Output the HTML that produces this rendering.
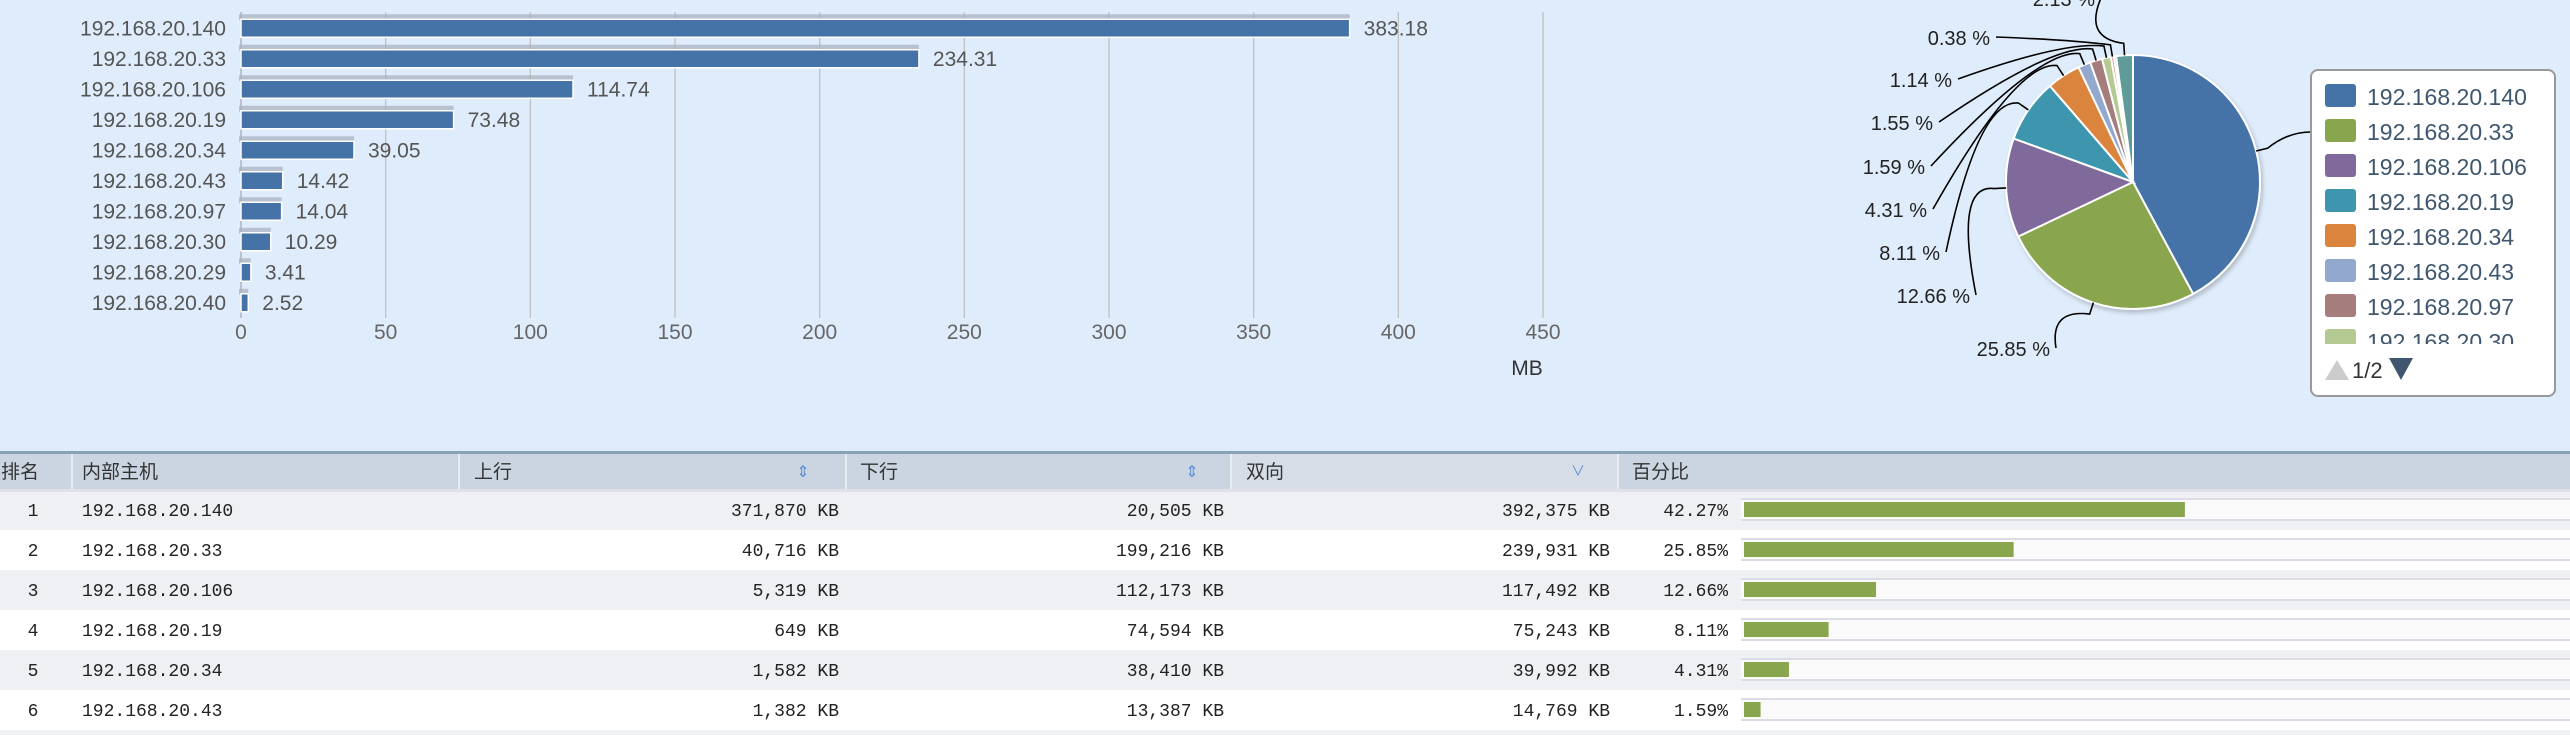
<!DOCTYPE html>
<html><head><meta charset="utf-8">
<style>
html,body{margin:0;padding:0;background:#dfecfb;}
svg{display:block;}
.t{font-family:"Liberation Sans","Noto Sans CJK SC",sans-serif;}
.m{font-family:"Liberation Mono","Noto Sans CJK SC",monospace;}
</style></head>
<body>
<svg id="root" width="2570" height="735" viewBox="0 0 2570 735" xmlns="http://www.w3.org/2000/svg">
<defs>
<filter id="sh" x="-10%" y="-10%" width="130%" height="130%"><feDropShadow dx="2" dy="3" stdDeviation="2" flood-color="#000" flood-opacity="0.2"/></filter>
</defs>
<rect x="0" y="0" width="2570" height="735" fill="#dfecfb"/>
<g id="bar"></g>
<g id="pie"></g>
<g id="legend"></g>
<g id="table"></g>
</svg>
<script>
const hosts = ["192.168.20.140","192.168.20.33","192.168.20.106","192.168.20.19","192.168.20.34","192.168.20.43","192.168.20.97","192.168.20.30","192.168.20.29","192.168.20.40"];
const barValues = [383.18,234.31,114.74,73.48,39.05,14.42,14.04,10.29,3.41,2.52];
const xTicks = [0,50,100,150,200,250,300,350,400,450];
const pieValues = [42.27,25.85,12.66,8.11,4.31,1.59,1.55,1.14,0.38,0.28,2.13];
const pieLabels = ["42.27 %","25.85 %","12.66 %","8.11 %","4.31 %","1.59 %","1.55 %","1.14 %","0.38 %","","2.13 %"];
const legendNames = ["192.168.20.140","192.168.20.33","192.168.20.106","192.168.20.19","192.168.20.34","192.168.20.43","192.168.20.97","192.168.20.30"];
const rankCol = ["1","2","3","4","5","6"];
const hostCol = ["192.168.20.140","192.168.20.33","192.168.20.106","192.168.20.19","192.168.20.34","192.168.20.43"];
const upCol = ["371,870 KB","40,716 KB","5,319 KB","649 KB","1,582 KB","1,382 KB"];
const downCol = ["20,505 KB","199,216 KB","112,173 KB","74,594 KB","38,410 KB","13,387 KB"];
const bothCol = ["392,375 KB","239,931 KB","117,492 KB","75,243 KB","39,992 KB","14,769 KB"];
const pctCol = [42.27,25.85,12.66,8.11,4.31,1.59];

const NS="http://www.w3.org/2000/svg";
function mk(parent,tag,attrs,text){const e=document.createElementNS(NS,tag);for(const k in attrs)e.setAttribute(k,attrs[k]);if(text!==undefined)e.textContent=text;parent.appendChild(e);return e;}

// ---- Bar chart ----
const bar=document.getElementById('bar');
const x0=241,x1=1543,plotTop=12,plotBot=318;
const xs=v=>x0+(v-xTicks[0])/(xTicks[xTicks.length-1]-xTicks[0])*(x1-x0);
const bandTop=13,band=(plotBot-bandTop)/hosts.length;
const yc=i=>bandTop+band*(i+0.5);
xTicks.forEach((t,i)=>{
  const g=mk(bar,'line',{x1:xs(t),x2:xs(t),y1:plotTop,y2:plotBot,stroke:i===0?'#aab':'#c0c0c0','stroke-width':1.3});
  
  
  const l=mk(bar,'text',{x:xs(t),y:339,'text-anchor':'middle','font-size':21,fill:'#666',class:'t'},String(t));
  
  
});
const mb=mk(bar,'text',{x:1527,y:375,'text-anchor':'middle','font-size':21,fill:'#333',class:'t'},'MB');


hosts.forEach((h,i)=>{
  const c=yc(i),w=xs(barValues[i])-x0,bh=18;
  const s=mk(bar,'rect',{x:x0-2,y:c-bh/2-5,width:w+2,height:6,fill:'#aab3c0',opacity:0.75});
  
  
  const r=mk(bar,'rect',{x:x0,y:c-bh/2,width:w,height:bh,fill:'#4572a7',stroke:'#fff','stroke-width':1.5});
  
  
  const lab=mk(bar,'text',{x:226,y:c+7,'text-anchor':'end','font-size':21,fill:'#555',class:'t'},h);
  
  
  const v=mk(bar,'text',{x:x0+w+14,y:c+7,'font-size':21,fill:'#555',class:'t'},barValues[i].toFixed(2));
  
  
});

// ---- Pie ----
const pie=document.getElementById('pie');
const colors=['#4572a7','#89a54e','#80699b','#3d96ae','#db843d','#92a8cd','#a47d7c','#b5ca92','#d98c8c','#aa4643','#5e9b98'];
const cx=2133,cy=182,R=127;
const total=pieValues.reduce((a,b)=>a+b,0);
const pg=mk(pie,'g',{filter:'url(#sh)'});
const labelPos=[[2311,140],[2050,356],[1970,303],[1940,260],[1927,217],[1925,174],[1933,130],[1952,87],[1990,45],null,[2095,6]];
let a=-Math.PI/2;
pieValues.forEach((v,i)=>{
  const da=v/total*2*Math.PI,a2=a+da;
  const p1=[cx+R*Math.cos(a),cy+R*Math.sin(a)],p2=[cx+R*Math.cos(a2),cy+R*Math.sin(a2)];
  const d=`M${cx},${cy} L${p1[0]},${p1[1]} A${R},${R} 0 ${da>Math.PI?1:0} 1 ${p2[0]},${p2[1]} Z`;
  const s=mk(pg,'path',{d,fill:colors[i],stroke:'#fff','stroke-width':2});
  
  
  const mid=(a+a2)/2;
  const lp=labelPos[i];
  if(lp&&pieLabels[i]){
    const e=[cx+R*Math.cos(mid),cy+R*Math.sin(mid)];
    const o=[cx+(R+12)*Math.cos(mid),cy+(R+12)*Math.sin(mid)];
    const right=i===0;
    const ex=right?lp[0]:lp[0]+6, ey=lp[1]-8;
    const ln=mk(pie,'path',{d:`M${e[0]},${e[1]} L${o[0]},${o[1]} Q${right?o[0]+20:o[0]-40},${right?ey:o[1]-5} ${ex},${ey}`,fill:'none',stroke:'#000','stroke-width':1.6});
    
    
    if(!right){
      const t=mk(pie,'text',{x:lp[0],y:lp[1],'text-anchor':'end','font-size':20,fill:'#222',class:'t'},pieLabels[i]);
      
      
    }
  }
  a=a2;
});

// ---- Legend ----
const lg=document.getElementById('legend');
const LX=2311;
const box=mk(lg,'rect',{x:LX,y:70,width:244,height:326,rx:7,fill:'#fff',stroke:'#999','stroke-width':2});


mk(lg,'clipPath',{id:'lc'}).appendChild(document.createElementNS(NS,'rect'));
const cr=document.querySelector('#lc rect');cr.setAttribute('x',LX);cr.setAttribute('y',72);cr.setAttribute('width',244);cr.setAttribute('height',272);
const li=mk(lg,'g',{'clip-path':'url(#lc)'});
legendNames.forEach((n,i)=>{
  const y=96+i*35;
  const g=mk(li,'g',{});
  
  
  mk(g,'rect',{x:LX+14,y:y-12,width:31,height:23,rx:3,fill:colors[i]});
  mk(g,'text',{x:LX+56,y:y+9,'font-size':23,fill:'#3e576f',class:'t'},n);
});
const up=mk(lg,'path',{d:`M${LX+14},380 L${LX+26},360 L${LX+38},380 Z`,fill:'#ccc'});


const pt=mk(lg,'text',{x:LX+41,y:378,'font-size':22,fill:'#333',class:'t'},'1/2');


const dn=mk(lg,'path',{d:`M${LX+78},358 L${LX+102},358 L${LX+90},380 Z`,fill:'#3e576f'});



// ---- Table ----
const tb=document.getElementById('table');
const hb=mk(tb,'rect',{x:0,y:451,width:2570,height:3,fill:'#8aa2b8'});


const hdr=mk(tb,'rect',{x:0,y:454,width:2570,height:35,fill:'#cad5e1'});


const sortBg=mk(tb,'rect',{x:1232,y:454,width:385,height:35,fill:'#d6dde7'});


[72,459,846,1231,1618].forEach(x=>{
  const l=mk(tb,'line',{x1:x,x2:x,y1:454,y2:489,stroke:'#f2f5f9','stroke-width':1.5});
  
  
});
const heads=[["排名",1],["内部主机",82],["上行",474],["下行",860],["双向",1246],["百分比",1632]];
heads.forEach(h=>{
  const t=mk(tb,'text',{x:h[1],y:478,'font-size':19,fill:'#333',class:'t'},h[0]);
  
  
});
[803,1192].forEach(x=>{
  const s=mk(tb,'text',{x:x,y:477,'text-anchor':'middle','font-size':16,fill:'#5b8ed6',class:'t'},'⇕');
  
  
});
const sd=mk(tb,'text',{x:1578,y:476,'text-anchor':'middle','font-size':14,fill:'#5b8ed6',class:'t'},'∨');


mk(tb,'rect',{x:0,y:489,width:2570,height:3,fill:'#dfe0ea'});
rankCol.forEach((r,i)=>{
  const y0=490+i*40,cyr=y0+20;
  const row=mk(tb,'g',{});
  
  
  mk(row,'rect',{x:0,y:y0+(i===0?2:0),width:2570,height:i===0?38:40,fill:i%2===0?'#eff0f4':'#ffffff'});
  mk(row,'text',{x:33,y:cyr+6,'text-anchor':'middle','font-size':18,fill:'#222',class:'m'},r);
  mk(row,'text',{x:82,y:cyr+6,'font-size':18,fill:'#222',class:'m'},hostCol[i]);
  mk(row,'text',{x:839,y:cyr+6,'text-anchor':'end','font-size':18,fill:'#222',class:'m'},upCol[i]);
  mk(row,'text',{x:1224,y:cyr+6,'text-anchor':'end','font-size':18,fill:'#222',class:'m'},downCol[i]);
  mk(row,'text',{x:1610,y:cyr+6,'text-anchor':'end','font-size':18,fill:'#222',class:'m'},bothCol[i]);
  mk(row,'text',{x:1728,y:cyr+6,'text-anchor':'end','font-size':18,fill:'#222',class:'m'},pctCol[i].toFixed(2)+'%');
  mk(row,'rect',{x:1741,y:cyr-12,width:829,height:22,fill:'#fafafa'});
  mk(row,'rect',{x:1741,y:cyr-12,width:829,height:2,fill:'#dcdce6'});
  mk(row,'rect',{x:1741,y:cyr+9,width:829,height:2,fill:'#dcdce6'});
  const pb=mk(row,'rect',{x:1744,y:cyr-8,width:pctCol[i]*10.43,height:15,fill:'#89a54e'});
  
  
});
mk(tb,'rect',{x:0,y:730,width:2570,height:5,fill:'#eff0f4'});
</script>
</body></html>
